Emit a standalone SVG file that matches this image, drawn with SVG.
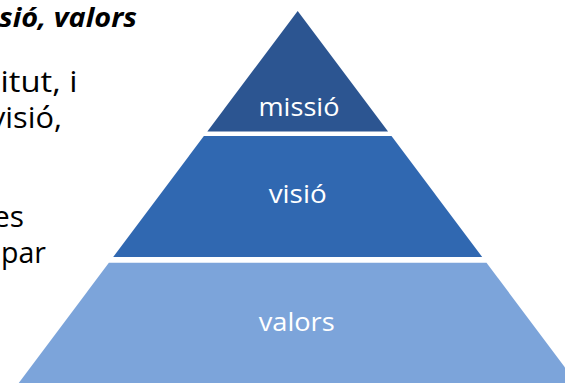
<svg xmlns="http://www.w3.org/2000/svg" width="565" height="383" viewBox="0 0 565 383">
  <style>
    .body { font-family: "Open Sans", "Noto Sans", sans-serif; font-size: 29px; fill: #000000; }
    .head { font-family: "Open Sans", "Noto Sans", sans-serif; font-size: 27px; font-weight: bold; font-style: italic; fill: #000000; }
    .lbl { font-family: "Open Sans", "Noto Sans", sans-serif; font-size: 25px; fill: #ffffff; text-anchor: middle; }
    .t1 { fill: #2C5591; }
    .t2 { fill: #3068B1; }
    .t3 { fill: #7CA4DA; }
  </style>
  <rect width="565" height="383" fill="#ffffff"/>

  <!-- slide text running off the left edge -->
  <g id="slide-text">
    <text class="head" x="-1" y="27" textLength="138" lengthAdjust="spacingAndGlyphs">sió, valors</text>
    <text class="body" x="0.5" y="92" textLength="77" lengthAdjust="spacingAndGlyphs">itut, i</text>
    <text class="body" x="-10" y="128" textLength="72" lengthAdjust="spacingAndGlyphs">visió,</text>
    <text class="body" x="-7" y="227" textLength="31" lengthAdjust="spacingAndGlyphs">es</text>
    <text class="body" x="1" y="263" textLength="45" lengthAdjust="spacingAndGlyphs">par</text>
  </g>

  <!-- three-tier pyramid -->
  <g id="tier-missio">
    <polygon class="t1" points="297.7,11 388.1,131.5 207.3,131.5"/>
    <text class="lbl" x="299" y="115.7" textLength="81" lengthAdjust="spacingAndGlyphs">missió</text>
  </g>
  <g id="tier-visio">
    <polygon class="t2" points="203.9,136 391.5,136 482.2,257 113.2,257"/>
    <text class="lbl" x="297.7" y="203.3" textLength="58" lengthAdjust="spacingAndGlyphs">visió</text>
  </g>
  <g id="tier-valors">
    <polygon class="t3" points="108.9,262.7 486.5,262.7 577.4,384 18,384"/>
    <text class="lbl" x="296.7" y="331" textLength="76" lengthAdjust="spacingAndGlyphs">valors</text>
  </g>
</svg>
